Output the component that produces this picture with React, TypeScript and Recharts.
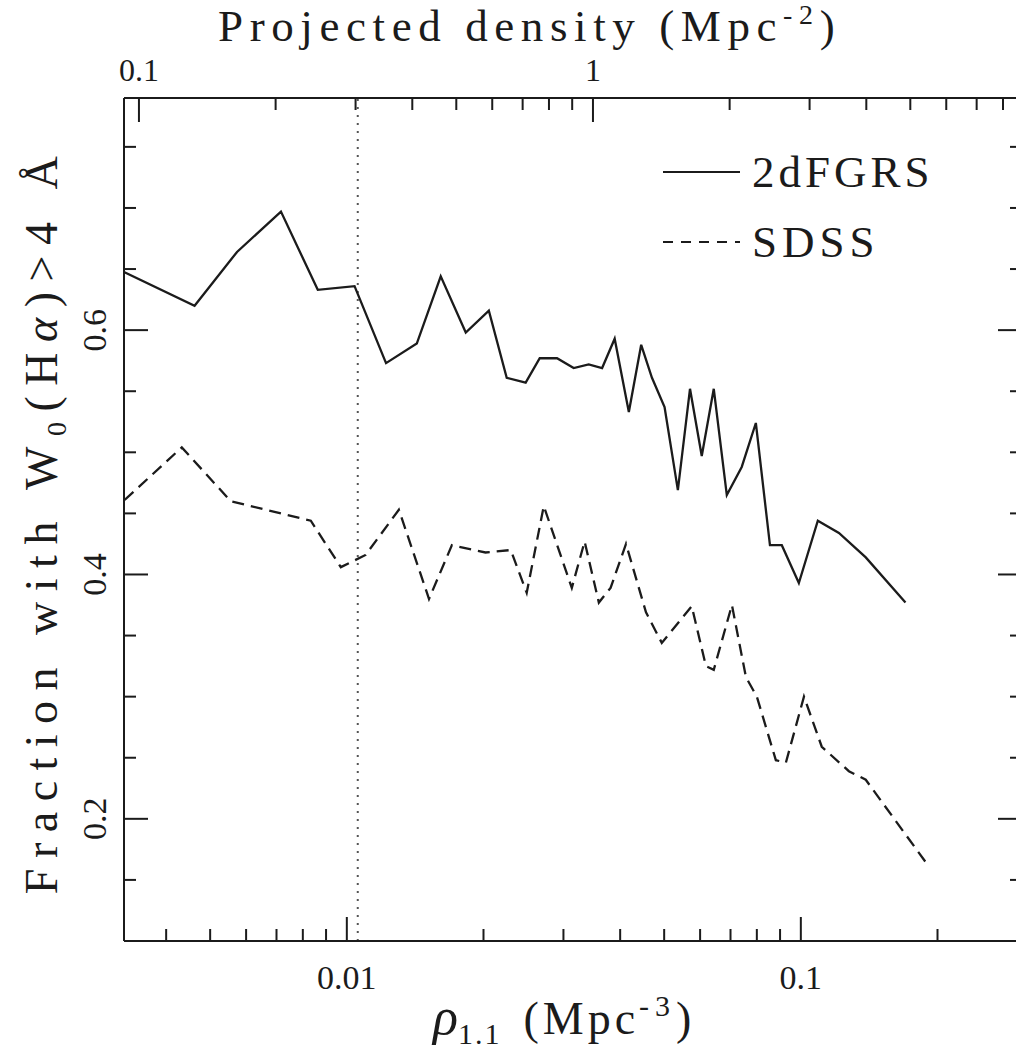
import React from 'react';
import { LineChart, Line, XAxis, YAxis, ReferenceLine, Legend } from 'recharts';

// rho_1.1 (Mpc^-3) vs fraction of galaxies with W0(Halpha) > 4 A
const rho2df = [0.00323, 0.00462, 0.00573, 0.00716, 0.00863, 0.0104, 0.0122, 0.01426, 0.0161, 0.01828, 0.02055, 0.0225, 0.02477, 0.0266, 0.02904, 0.0316, 0.0341, 0.0365, 0.0389, 0.0418, 0.0445, 0.047, 0.0501, 0.0536, 0.057, 0.0605, 0.0643, 0.0687, 0.0741, 0.0796, 0.0855, 0.0908, 0.099, 0.109, 0.1213, 0.139, 0.17];
const frac2df = [0.6475, 0.62, 0.664, 0.697, 0.633, 0.636, 0.573, 0.589, 0.644, 0.598, 0.616, 0.561, 0.557, 0.577, 0.577, 0.569, 0.572, 0.569, 0.593, 0.533, 0.588, 0.561, 0.537, 0.469, 0.552, 0.497, 0.552, 0.465, 0.488, 0.524, 0.424, 0.424, 0.393, 0.444, 0.434, 0.414, 0.377];

const rhoSdss = [0.00324, 0.00433, 0.00555, 0.00833, 0.0097, 0.011, 0.01302, 0.01517, 0.01704, 0.0202, 0.02297, 0.0249, 0.02715, 0.0313, 0.0334, 0.0359, 0.0381, 0.0412, 0.0456, 0.0494, 0.0575, 0.0618, 0.0643, 0.0705, 0.0757, 0.08, 0.0881, 0.0927, 0.1016, 0.1112, 0.1276, 0.139, 0.1914];
const fracSdss = [0.461, 0.504, 0.46, 0.444, 0.406, 0.416, 0.453, 0.38, 0.424, 0.418, 0.42, 0.385, 0.456, 0.389, 0.427, 0.377, 0.389, 0.425, 0.369, 0.344, 0.374, 0.325, 0.322, 0.375, 0.316, 0.3, 0.248, 0.246, 0.3, 0.259, 0.239, 0.232, 0.161];

// dotted cut
const rhoCut = 0.01057;

const rhoTicks = [0.004, 0.005, 0.006, 0.007, 0.008, 0.009, 0.01, 0.02, 0.03, 0.04, 0.05, 0.06, 0.07, 0.08, 0.09, 0.1, 0.2, 0.3];
const rhoMajor = [0.01, 0.1];
const rhoMajorText = ['0.01', '0.1'];

const projTicks = [0.1, 0.2, 0.3, 0.4, 0.5, 0.6, 0.7, 0.8, 0.9, 1, 2, 3, 4, 5, 6, 7, 8];
const projMajor = [0.1, 1];
const projMajorText = ['0.1', '1'];

const fracTicks = [0.15, 0.2, 0.25, 0.3, 0.35, 0.4, 0.45, 0.5, 0.55, 0.6, 0.65, 0.7, 0.75];
const fracMajor = [0.2, 0.4, 0.6];
const fracMajorText = ['0.2', '0.4', '0.6'];

const rhoDomain = [0.00323, 0.307];
const projDomain = [0.0927, 8.81];
const fracDomain = [0.1, 0.79];

const data2df = rho2df.map((rho, i) => ({ rho, frac: frac2df[i] }));
const dataSdss = rhoSdss.map((rho, i) => ({ rho, frac: fracSdss[i] }));
// invisible series so the top axis gets a scale
const projAnchors = projTicks.map((proj) => ({ proj }));

const ink = '#1b1b1b';
const font = "'Liberation Serif', serif";
const axisLine = { stroke: ink, strokeWidth: 2 };

function BottomTick({ x, y, payload }: any) {
  const i = rhoMajor.indexOf(payload.value);
  return (
    <g>
      <line x1={x} x2={x} y1={y} y2={y - (i >= 0 ? 24 : 12)} stroke={ink} strokeWidth={2} />
      {i >= 0 && (
        <text x={x} y={y + 48} textAnchor="middle" fontFamily={font} fontSize={34} fill={ink}>
          {rhoMajorText[i]}
        </text>
      )}
    </g>
  );
}

function TopTick({ x, y, payload }: any) {
  const i = projMajor.indexOf(payload.value);
  return (
    <g>
      <line x1={x} x2={x} y1={y} y2={y + (i >= 0 ? 24 : 12)} stroke={ink} strokeWidth={2} />
      {i >= 0 && (
        <text x={x} y={y - 17} textAnchor="middle" fontFamily={font} fontSize={32} fill={ink}>
          {projMajorText[i]}
        </text>
      )}
    </g>
  );
}

function LeftTick({ x, y, payload }: any) {
  const i = fracMajor.indexOf(payload.value);
  const tx = x - 18;
  return (
    <g>
      <line x1={x} x2={x + (i >= 0 ? 24 : 12)} y1={y} y2={y} stroke={ink} strokeWidth={2} />
      {i >= 0 && (
        <text x={tx} y={y} transform={`rotate(-90 ${tx} ${y})`} textAnchor="middle" fontFamily={font} fontSize={34} fill={ink}>
          {fracMajorText[i]}
        </text>
      )}
    </g>
  );
}

function RightTick({ x, y, payload }: any) {
  const major = fracMajor.includes(payload.value);
  return <line x1={x} x2={x - (major ? 24 : 12)} y1={y} y2={y} stroke={ink} strokeWidth={2} />;
}

function TopTitle() {
  return (
    <text x={218} y={41} fontFamily={font} fontSize={45} letterSpacing={6.6} fill={ink}>
      Projected density (Mpc
      <tspan fontSize={28} dy={-17}>-2</tspan>
      <tspan dy={17}>)</tspan>
    </text>
  );
}

function BottomTitle() {
  return (
    <text x={433} y={1034} fontFamily={font} fontSize={46} fill={ink}>
      <tspan fontStyle="italic" fontSize={52}>ρ</tspan>
      <tspan fontSize={30} dy={10} letterSpacing={2}>1.1</tspan>
      <tspan dy={-10} dx={22} letterSpacing={4}>(Mpc</tspan>
      <tspan fontSize={30} dy={-18} letterSpacing={6}>-3</tspan>
      <tspan dy={18}>)</tspan>
    </text>
  );
}

function LeftTitle() {
  const x = 57;
  const y = 520;
  return (
    <text x={x} y={y} transform={`rotate(-90 ${x} ${y})`} textAnchor="middle" fontFamily={font} fontSize={46} letterSpacing={10.5} fill={ink}>
      Fraction with W
      <tspan fontSize={28} dy={9}>0</tspan>
      <tspan dy={-9}>(H</tspan>
      <tspan fontStyle="italic">α</tspan>
      <tspan>)&gt;4 Å</tspan>
    </text>
  );
}

function LegendBox() {
  return (
    <svg width={320} height={150}>
      <line x1={23} x2={100} y1={42} y2={42} stroke={ink} strokeWidth={2.2} />
      <text x={112} y={57} fontFamily={font} fontSize={45} letterSpacing={4} fill={ink}>2dFGRS</text>
      <line x1={23} x2={100} y1={112} y2={112} stroke={ink} strokeWidth={2.2} strokeDasharray="10 8" />
      <text x={112} y={127} fontFamily={font} fontSize={45} letterSpacing={5} fill={ink}>SDSS</text>
    </svg>
  );
}

export default function App() {
  return (
    <div style={{ width: 1016, height: 1055, overflow: 'hidden' }}>
      <style>{'body { margin: 0; }'}</style>
      <LineChart width={1024} height={1055} margin={{ top: 0, right: 0, bottom: 0, left: 0 }}>
        <XAxis
          xAxisId="bottom"
          dataKey="rho"
          type="number"
          scale="log"
          domain={rhoDomain}
          allowDataOverflow
          ticks={rhoTicks}
          interval={0}
          height={114}
          tickSize={0}
          tickMargin={0}
          tickLine={false}
          axisLine={axisLine}
          tick={(p: any) => <BottomTick {...p} />}
          label={<BottomTitle />}
        />
        <XAxis
          xAxisId="top"
          orientation="top"
          dataKey="proj"
          type="number"
          scale="log"
          domain={projDomain}
          allowDataOverflow
          ticks={projTicks}
          interval={0}
          height={98}
          tickSize={0}
          tickMargin={0}
          tickLine={false}
          axisLine={axisLine}
          tick={(p: any) => <TopTick {...p} />}
          label={<TopTitle />}
        />
        <YAxis
          yAxisId="left"
          type="number"
          domain={fracDomain}
          allowDataOverflow
          ticks={fracTicks}
          interval={0}
          width={124}
          tickSize={0}
          tickMargin={0}
          tickLine={false}
          axisLine={axisLine}
          tick={(p: any) => <LeftTick {...p} />}
          label={<LeftTitle />}
        />
        <YAxis
          yAxisId="right"
          orientation="right"
          type="number"
          domain={fracDomain}
          allowDataOverflow
          ticks={fracTicks}
          interval={0}
          width={2}
          tickSize={0}
          tickMargin={0}
          tickLine={false}
          axisLine={axisLine}
          tick={(p: any) => <RightTick {...p} />}
        />
        <ReferenceLine xAxisId="bottom" yAxisId="left" x={rhoCut} stroke="#555" strokeWidth={2} strokeDasharray="2 6" />
        <Line
          xAxisId="top"
          yAxisId="left"
          data={projAnchors}
          dataKey="proj"
          stroke="none"
          dot={false}
          activeDot={false}
          legendType="none"
          isAnimationActive={false}
        />
        <Line
          xAxisId="bottom"
          yAxisId="left"
          data={data2df}
          dataKey="frac"
          name="2dFGRS"
          type="linear"
          stroke={ink}
          strokeWidth={2.3}
          dot={false}
          isAnimationActive={false}
        />
        <Line
          xAxisId="bottom"
          yAxisId="left"
          data={dataSdss}
          dataKey="frac"
          name="SDSS"
          type="linear"
          stroke={ink}
          strokeWidth={2.3}
          strokeDasharray="12 7"
          dot={false}
          isAnimationActive={false}
        />
        <Legend
          layout="vertical"
          align="center"
          verticalAlign="middle"
          wrapperStyle={{ position: 'absolute', left: 640, top: 130, width: 320, height: 150 }}
          content={() => <LegendBox />}
        />
      </LineChart>
    </div>
  );
}
